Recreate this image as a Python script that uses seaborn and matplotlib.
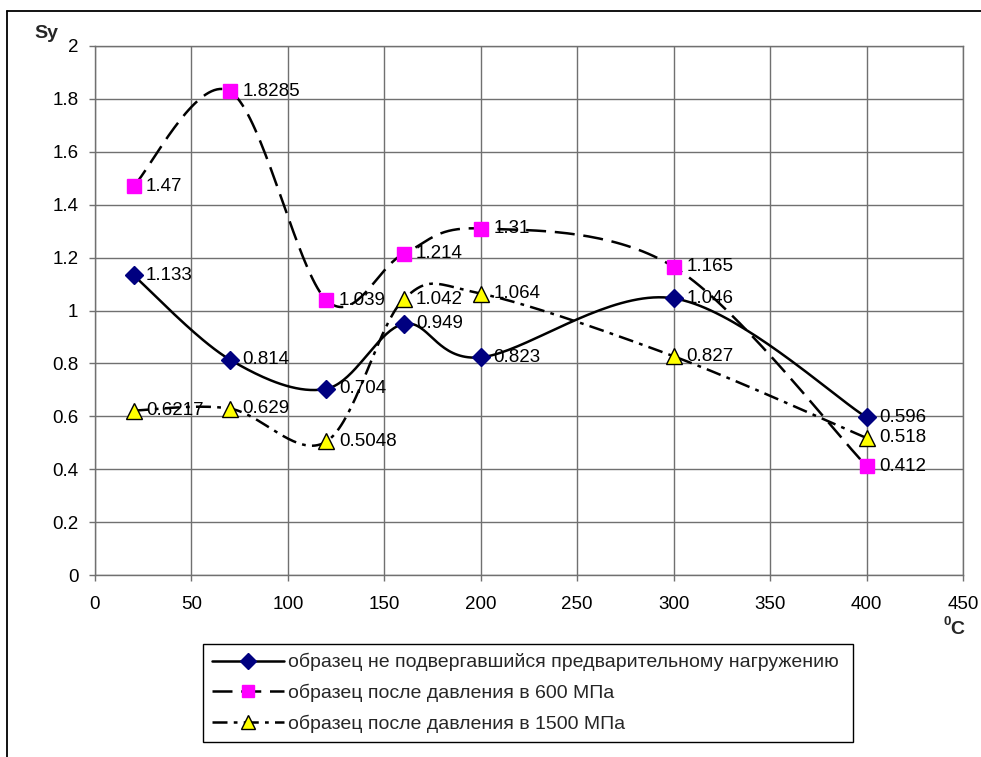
import numpy as np
import pandas as pd
import matplotlib
matplotlib.use("Agg")
import matplotlib.pyplot as plt
import seaborn as sns
from matplotlib.lines import Line2D

temps = [20, 70, 120, 160, 200, 300, 400]
s_none = [1.133, 0.814, 0.704, 0.949, 0.823, 1.046, 0.596]
s_600 = [1.47, 1.8285, 1.039, 1.214, 1.31, 1.165, 0.412]
s_1500 = [0.6217, 0.629, 0.5048, 1.042, 1.064, 0.827, 0.518]
labels_none = ["1.133", "0.814", "0.704", "0.949", "0.823", "1.046", "0.596"]
labels_600 = ["1.47", "1.8285", "1.039", "1.214", "1.31", "1.165", "0.412"]
labels_1500 = ["0.6217", "0.629", "0.5048", "1.042", "1.064", "0.827", "0.518"]
series_names = ["образец не подвергавшийся предварительному нагружению",
                "образец после давления в 600 МПа",
                "образец после давления в 1500 МПа"]
xticks = [0, 50, 100, 150, 200, 250, 300, 350, 400, 450]
yticks = [0, 0.2, 0.4, 0.6, 0.8, 1, 1.2, 1.4, 1.6, 1.8, 2]
ytick_labels = ["0", "0.2", "0.4", "0.6", "0.8", "1", "1.2", "1.4", "1.6", "1.8", "2"]

sns.set_theme(style="white")
plt.rcParams['font.family'] = ['Liberation Sans', 'DejaVu Sans']

fig = plt.figure(figsize=(9.81, 7.57), dpi=100)
ax = fig.add_axes([95/981, 1-575/757, (963-95)/981, (575-46)/757])
ax.set_xlim(0, 450)
ax.set_ylim(0, 2)
ax.set_xticks(xticks)
ax.set_yticks(yticks)
ax.set_xticklabels([str(t) for t in xticks])
ax.set_yticklabels(ytick_labels)
ax.grid(True, color="#707070", lw=1.0)
ax.set_axisbelow(True)
for sp in ax.spines.values():
    sp.set_color("#707070")
    sp.set_linewidth(1.0)
ax.tick_params(axis="both", direction="out", length=4, width=1, color="#707070",
               labelsize=13.5, labelcolor="black", left=True, bottom=True)
ax.tick_params(axis="y", pad=8)
ax.tick_params(axis="x", pad=11)


def smooth(xs, ys, n=40):
    # Excel-like Bezier smoothing, computed in display space
    pts = ax.transData.transform(np.column_stack([xs, ys]))
    m = len(pts)
    out = []
    for i in range(m - 1):
        p0 = pts[max(i - 1, 0)]
        p1 = pts[i]
        p2 = pts[i + 1]
        p3 = pts[min(i + 2, m - 1)]
        c1 = p1 + (p2 - p0) / 6.0
        c2 = p2 - (p3 - p1) / 6.0
        t = np.linspace(0, 1, n)[:, None]
        seg = ((1 - t) ** 3) * p1 + 3 * ((1 - t) ** 2) * t * c1 + 3 * (1 - t) * t ** 2 * c2 + t ** 3 * p2
        out.append(seg if i == 0 else seg[1:])
    out = np.vstack(out)
    return ax.transData.inverted().transform(out)


styles = [
    dict(dashes=None, marker="D", mfc="#000080", mec="#000080", ms=9),
    dict(dashes=(8, 3.5), marker="s", mfc="#FF00FF", mec="#FF00FF", ms=10),
    dict(dashes=(6, 2.5, 1.5, 2.5), marker="^", mfc="#FFFF00", mec="black", ms=11),
]
all_y = [s_none, s_600, s_1500]
all_lbl = [labels_none, labels_600, labels_1500]

for ys, st, lbls in zip(all_y, styles, all_lbl):
    curve = smooth(np.array(temps, float), np.array(ys, float))
    cdf = pd.DataFrame({"x": curve[:, 0], "y": curve[:, 1]})
    sns.lineplot(data=cdf, x="x", y="y", sort=False, estimator=None, ax=ax,
                 color="black", lw=1.8, zorder=3)
    line = ax.lines[-1]
    if st["dashes"] is not None:
        line.set_dashes(st["dashes"])
    pdf = pd.DataFrame({"x": temps, "y": ys})
    sns.lineplot(data=pdf, x="x", y="y", ax=ax, lw=0, marker=st["marker"],
                 markersize=st["ms"], markerfacecolor=st["mfc"], markeredgecolor=st["mec"],
                 markeredgewidth=1.0, color="black", zorder=4, estimator=None)
    for x, y, t in zip(temps, ys, lbls):
        ax.annotate(t, (x, y), xytext=(9, 0), textcoords="offset points",
                    ha="left", va="center", fontsize=13.5, color="black", zorder=5)

ax.set_xlabel("")
ax.set_ylabel("")

fig.text(34/981, 1-33/757, "Sy", fontsize=14, fontweight="bold", ha="left", va="center")
fig.text(950/981, 1-630/757, "C", fontsize=14, fontweight="bold", ha="left", va="center")
fig.text(944/981, 1-622/757, "0", fontsize=9.5, fontweight="bold", ha="left", va="center")

handles = []
for st, name in zip(styles, series_names):
    h = Line2D([0], [0], color="black", lw=1.8, marker=st["marker"], ms=st["ms"] - 1,
               mfc=st["mfc"], mec=st["mec"], mew=1.0)
    if st["dashes"] is not None:
        h.set_dashes(st["dashes"])
    handles.append(h)
leg = fig.legend(handles, series_names, loc="lower left",
                 bbox_to_anchor=(203/981, 1-742/757, (853-203)/981, (742-645)/757),
                 mode="expand", fontsize=14, handlelength=3.7, handletextpad=0.2,
                 labelspacing=0.65, borderpad=0.45, frameon=True, fancybox=False,
                 edgecolor="black", framealpha=1, numpoints=1, borderaxespad=0)
leg.get_frame().set_linewidth(1.0)

fig.add_artist(Line2D([7/981, 7/981], [0, 1-11/757], color="black", lw=1.3, transform=fig.transFigure))
fig.add_artist(Line2D([7/981, 1], [1-11/757, 1-11/757], color="black", lw=1.3, transform=fig.transFigure))

fig.savefig("out.png", dpi=100)
